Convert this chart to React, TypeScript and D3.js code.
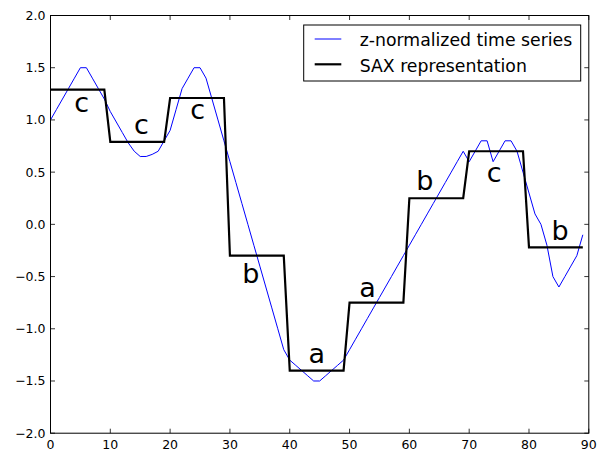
import React from "react";
import * as d3 from "d3";

// z-normalized time series (90 points)
const series: number[] = [
  1.0, 1.1, 1.2, 1.3, 1.4, 1.5, 1.5, 1.4, 1.3, 1.2,
  1.08, 0.98, 0.88, 0.78, 0.7, 0.65, 0.65, 0.67, 0.7, 0.8,
  0.9, 1.1, 1.3, 1.4, 1.5, 1.5, 1.4, 1.2, 1.0, 0.8,
  0.6, 0.4, 0.2, 0.0, -0.2, -0.4, -0.6, -0.8, -1.0, -1.2,
  -1.3, -1.35, -1.4, -1.45, -1.5, -1.5, -1.45, -1.4, -1.35, -1.3,
  -1.2, -1.1, -1.0, -0.9, -0.8, -0.7, -0.6, -0.5, -0.4, -0.3,
  -0.2, -0.1, 0.0, 0.1, 0.2, 0.3, 0.4, 0.5, 0.6, 0.7,
  0.6, 0.7, 0.8, 0.8, 0.6, 0.7, 0.8, 0.8, 0.7, 0.5,
  0.3, 0.1, 0.0, -0.2, -0.5, -0.6, -0.5, -0.4, -0.3, -0.1,
];

// SAX segment levels (one per 10 points)
const saxLevels: number[] = [1.29, 0.79, 1.21, -0.3, -1.4, -0.75, 0.25, 0.7, -0.22];
const segmentLength = 10;

// SAX letters and their anchors (data coordinates)
const saxLetters: string[] = ["c", "c", "c", "b", "a", "a", "b", "c", "b"];
const letterX: number[] = [5.2, 15.2, 24.6, 33.5, 44.5, 53.0, 62.6, 74.2, 85.2];
const letterY: number[] = [1.075, 0.87, 1.008, -0.565, -1.33, -0.694, 0.328, 0.407, -0.151];

const xTicks: number[] = [0, 10, 20, 30, 40, 50, 60, 70, 80, 90];
const yTicks: number[] = [-2.0, -1.5, -1.0, -0.5, 0.0, 0.5, 1.0, 1.5, 2.0];

const legendLabels: string[] = ["z-normalized time series", "SAX representation"];

const W = 598;
const H = 452;
const left = 50.5;
const right = 588.8;
const top = 15.5;
const bottom = 433.2;
const FONT = "DejaVu Sans, sans-serif";

export default function App() {
  const x = d3.scaleLinear().domain([0, 90]).range([left, right]);
  const y = d3.scaleLinear().domain([-2, 2]).range([bottom, top]);

  const line = d3
    .line<number>()
    .x((_, i) => x(i))
    .y((d) => y(d));

  const saxSeries = series.map((_, i) => saxLevels[Math.floor(i / segmentLength)]);

  const fmt = (v: number) => {
    const s = Math.abs(v).toFixed(1);
    return v < 0 ? "\u2212" + s : s;
  };

  const tickLen = 4.5;

  return (
    <svg
      width={W}
      height={H}
      style={{ position: "absolute", left: 0, top: 0, background: "#fff" }}
      fontFamily={FONT}
    >
      <rect x={0} y={0} width={W} height={H} fill="#fff" />
      <defs>
        <clipPath id="plot">
          <rect x={left} y={top} width={right - left} height={bottom - top} />
        </clipPath>
      </defs>

      <g clipPath="url(#plot)">
        <path d={line(series) || ""} fill="none" stroke="#0000ff" strokeWidth={1} />
        <path
          d={line(saxSeries) || ""}
          fill="none"
          stroke="#000"
          strokeWidth={2.2}
          strokeLinejoin="miter"
        />
      </g>

      {saxLetters.map((l, i) => (
        <text
          key={"l" + i}
          x={x(letterX[i])}
          y={y(letterY[i])}
          textAnchor="middle"
          fontSize={27}
          fill="#000"
        >
          {l}
        </text>
      ))}

      {/* frame */}
      <rect
        x={left}
        y={top}
        width={right - left}
        height={bottom - top}
        fill="none"
        stroke="#000"
        strokeWidth={1}
      />

      {/* x ticks */}
      {xTicks.map((t) => (
        <g key={"x" + t}>
          <line x1={x(t)} x2={x(t)} y1={bottom} y2={bottom - tickLen} stroke="#000" strokeWidth={0.8} />
          <line x1={x(t)} x2={x(t)} y1={top} y2={top + tickLen} stroke="#000" strokeWidth={0.8} />
          <text x={x(t)} y={bottom + 16} textAnchor="middle" fontSize={12.5} fill="#000">
            {String(t)}
          </text>
        </g>
      ))}

      {/* y ticks */}
      {yTicks.map((t) => (
        <g key={"y" + t}>
          <line x1={left} x2={left + tickLen} y1={y(t)} y2={y(t)} stroke="#000" strokeWidth={0.8} />
          <line x1={right} x2={right - tickLen} y1={y(t)} y2={y(t)} stroke="#000" strokeWidth={0.8} />
          <text x={left - 5} y={y(t) + 4.5} textAnchor="end" fontSize={12.5} fill="#000">
            {fmt(t)}
          </text>
        </g>
      ))}

      {/* legend */}
      <g>
        <rect x={303.7} y={25} width={277} height={56} fill="#fff" stroke="#000" strokeWidth={1} />
        <line x1={314.7} x2={341.3} y1={39} y2={39} stroke="#0000ff" strokeWidth={1} />
        <text x={359.7} y={46} fontSize={17.3} fill="#000">
          {legendLabels[0]}
        </text>
        <line x1={314.7} x2={341.3} y1={64.3} y2={64.3} stroke="#000" strokeWidth={2.2} />
        <text x={359.7} y={71.5} fontSize={17.3} fill="#000">
          {legendLabels[1]}
        </text>
      </g>
    </svg>
  );
}
